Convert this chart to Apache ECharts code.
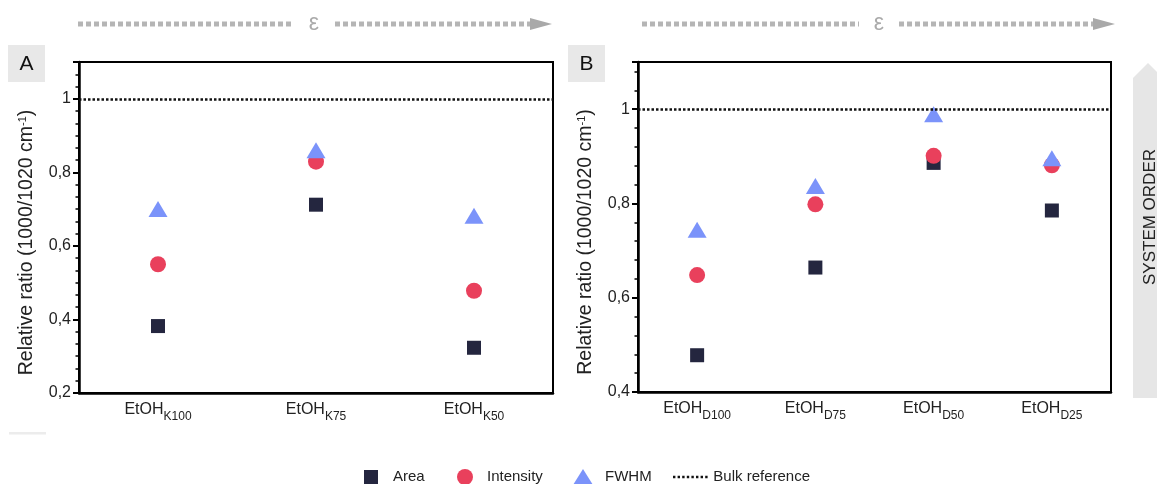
<!DOCTYPE html>
<html>
<head>
<meta charset="utf-8">
<script src="https://cdn.jsdelivr.net/npm/echarts@6/dist/echarts.min.js"></script>
<style>
  html, body { margin: 0; padding: 0; background: #fff; }
  #chart { width: 1157px; height: 484px; }
</style>
</head>
<body>
<div id="chart"></div>
<script>
// panel A: EtOH K series
const categoriesA = ["K100", "K75", "K50"];
const areaA = [0.382, 0.712, 0.323];
const intensityA = [0.55, 0.829, 0.478];
const fwhmA = [0.70, 0.86, 0.682];

// panel B: EtOH D series
const categoriesB = ["D100", "D75", "D50", "D25"];
const areaB = [0.478, 0.664, 0.886, 0.785];
const intensityB = [0.648, 0.798, 0.901, 0.881];
const fwhmB = [0.744, 0.837, 0.989, 0.896];

const bulkReference = 1;

const FONT = "'Liberation Sans', Arial, sans-serif";
const TEXT = "#222";
const colors = { area: "#24263f", intensity: "#e9405c", fwhm: "#7b93fa" };

function tickLabel(v) {
  return String(+v.toFixed(1)).replace(".", ",");
}

function xAxisFor(gridIndex, cats) {
  return {
    type: "category",
    gridIndex: gridIndex,
    data: cats,
    axisLine: { lineStyle: { color: "#000", width: 2.5 } },
    axisTick: { alignWithLabel: true, length: 6, lineStyle: { color: "#000", width: 2 } },
    axisLabel: {
      interval: 0,
      margin: 9,
      fontFamily: FONT,
      color: TEXT,
      formatter: (c) => "{m|EtOH}{s|" + c + "}",
      rich: {
        m: { fontSize: 16, lineHeight: 16, verticalAlign: "top", fontFamily: FONT, color: TEXT },
        s: { fontSize: 12, lineHeight: 12, verticalAlign: "top", padding: [9, 0, 0, 0], fontFamily: FONT, color: TEXT },
      },
    },
  };
}

function yAxisFor(gridIndex, min, split) {
  return {
    type: "value",
    gridIndex: gridIndex,
    min: min,
    max: 1.1,
    interval: 0.2,
    name: "Relative ratio (1000/1020 cm{sup|-1})",
    nameLocation: "middle",
    nameGap: 42,
    nameTextStyle: {
      fontSize: 19.5,
      fontFamily: FONT,
      color: TEXT,
      padding: [0, 30, 0, 0],
      rich: { sup: { fontSize: 11, verticalAlign: "top", fontFamily: FONT, color: TEXT } },
    },
    splitLine: { show: false },
    axisLine: { show: true, lineStyle: { color: "#000", width: 2.5 } },
    axisTick: { show: true, length: 6, lineStyle: { color: "#000", width: 2 } },
    minorTick: { show: true, splitNumber: split, length: 3.5, lineStyle: { color: "#000", width: 1.5 } },
    axisLabel: {
      margin: 8,
      fontSize: 16,
      fontFamily: FONT,
      color: TEXT,
      showMaxLabel: false,
      formatter: tickLabel,
    },
  };
}

function scatter(name, data, idx, symbol, size, color) {
  return {
    name: name,
    type: "scatter",
    xAxisIndex: idx,
    yAxisIndex: idx,
    data: data,
    symbol: symbol,
    symbolSize: size,
    itemStyle: { color: color, opacity: 1 },
    silent: true,
  };
}

function bulk(idx) {
  return {
    name: "Bulk reference",
    type: "line",
    xAxisIndex: idx,
    yAxisIndex: idx,
    data: [],
    symbol: "none",
    lineStyle: { color: "#111", width: 2, type: [2, 2] },
    itemStyle: { color: "#111" },
    markLine: {
      silent: true,
      symbol: "none",
      label: { show: false },
      lineStyle: { color: "#111", width: 2.5, type: [2.5, 2] },
      data: [{ yAxis: bulkReference }],
    },
  };
}

// one legend box per entry so each marker keeps its own size
function legendFor(name, left, w, h, gap, icon) {
  const item = icon ? { name: name, icon: icon } : name;
  return {
    data: [item],
    left: left,
    top: 477 - 9,
    padding: 0,
    itemWidth: w,
    itemHeight: h,
    selectedMode: false,
    textStyle: { fontSize: 15, lineHeight: 18, fontFamily: FONT, color: TEXT, padding: [0, 0, 0, gap] },
  };
}

let dots = "path://";
for (let i = 0; i < 8; i++) {
  dots += "M" + i * 4.6 + " 0h2.4v2.4h-2.4z ";
}

// top epsilon arrows, panel tags and the side arrow
function epsArrow(x1, x2, ex, x3, x4, x5) {
  const dash = { stroke: "#b5b5b5", lineWidth: 5, lineDash: [5, 3] };
  return [
    { type: "line", shape: { x1: x1, y1: 24, x2: x2, y2: 24 }, style: dash, silent: true },
    { type: "text", x: ex, y: 24, style: { text: "ε", fontSize: 23, fontFamily: FONT, fill: "#aaa", align: "center", verticalAlign: "middle" } },
    { type: "line", shape: { x1: x3, y1: 24, x2: x4, y2: 24 }, style: dash, silent: true },
    { type: "polygon", shape: { points: [[x4, 18], [x5, 24], [x4, 30]] }, style: { fill: "#a9a9a9" } },
  ];
}

function tag(x, letter) {
  return [
    { type: "rect", shape: { x: x, y: 45, width: 37, height: 37 }, style: { fill: "#e8e8e8" } },
    { type: "text", x: x + 18.5, y: 64, style: { text: letter, fontSize: 21, fontFamily: FONT, fill: "#111", align: "center", verticalAlign: "middle" } },
  ];
}

const graphics = [].concat(
  epsArrow(78, 292, 314, 335, 530, 552),
  epsArrow(642, 859, 879, 899, 1093, 1115),
  tag(8, "A"),
  tag(568, "B"),
  [
    { type: "rect", shape: { x: 9, y: 432, width: 37, height: 2.5 }, style: { fill: "#ececec" } },
    { type: "polygon", shape: { points: [[1133, 398], [1133, 78], [1148, 63], [1163, 78], [1163, 398]] }, style: { fill: "#e6e6e6" } },
    { type: "text", x: 1150, y: 217, rotation: Math.PI / 2, style: { text: "SYSTEM ORDER", fontSize: 17, fontFamily: FONT, fill: TEXT, align: "center", verticalAlign: "middle" } },
  ]
);

const option = {
  animation: false,
  backgroundColor: "#fff",
  textStyle: { fontFamily: FONT },
  grid: [
    { left: 79, right: 604, top: 62, bottom: 91, show: true, borderColor: "#000", borderWidth: 2 },
    { left: 638, right: 46, top: 62, bottom: 92, show: true, borderColor: "#000", borderWidth: 2 },
  ],
  xAxis: [xAxisFor(0, categoriesA), xAxisFor(1, categoriesB)],
  yAxis: [yAxisFor(0, 0.2, 6), yAxisFor(1, 0.4, 5)],
  legend: [
    legendFor("Area", 364, 14, 14, 10),
    legendFor("Intensity", 457, 16, 16, 9),
    legendFor("FWHM", 573, 20, 16, 7),
    legendFor("Bulk reference", 673, 36, 2.4, 0, dots),
  ],
  graphic: graphics,
  series: [
    scatter("Area", areaA, 0, "rect", 14, colors.area),
    scatter("Intensity", intensityA, 0, "circle", 16, colors.intensity),
    scatter("FWHM", fwhmA, 0, "triangle", [19, 16], colors.fwhm),
    bulk(0),
    scatter("Area", areaB, 1, "rect", 14, colors.area),
    scatter("Intensity", intensityB, 1, "circle", 16, colors.intensity),
    scatter("FWHM", fwhmB, 1, "triangle", [19, 16], colors.fwhm),
    bulk(1),
  ],
};

const myChart = echarts.init(document.getElementById("chart"));
myChart.setOption(option);
</script>
</body>
</html>
